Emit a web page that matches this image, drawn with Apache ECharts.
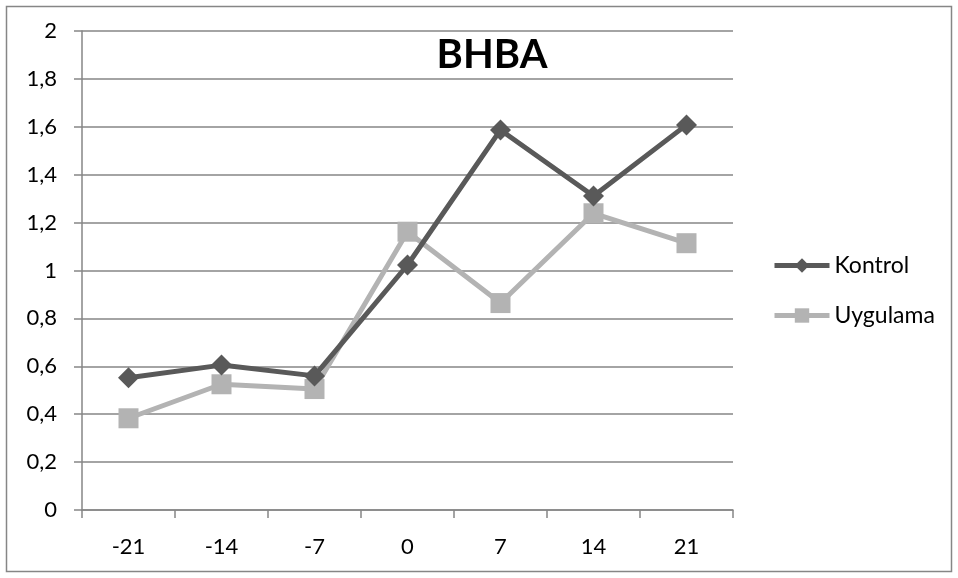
<!DOCTYPE html>
<html><head><meta charset="utf-8">
<script src="https://cdn.jsdelivr.net/npm/echarts@6/dist/echarts.min.js"></script>
<style>html,body{margin:0;padding:0;background:#fff}#c{width:958px;height:578px}</style>
</head><body><div id="c"></div>
<script>
const categories = ['-21','-14','-7','0','7','14','21'];
const kontrol = [0.552, 0.605, 0.56, 1.023, 1.587, 1.311, 1.608];
const uygulama = [0.383, 0.525, 0.505, 1.162, 0.864, 1.239, 1.114];
const yTicks = ['0','0,2','0,4','0,6','0,8','1','1,2','1,4','1,6','1,8','2'];

const chart = echarts.init(document.getElementById('c'));
const font = 'Lato, "Open Sans", sans-serif';
chart.setOption({
  animation: false,
  graphic: [{type:'rect', shape:{x:6.5,y:6.5,width:945,height:565}, style:{fill:'none', stroke:'#868686', lineWidth:1.5}}],
  title: {text:'BHBA', left:487, top:30, textAlign:'center', textStyle:{fontFamily:font, fontWeight:'bold', fontSize:40, color:'#000'}},
  grid: {left:82, right:958-733, top:31, bottom:578-510},
  legend: {orient:'vertical', left:767, top:249, itemGap:27, itemWidth:55, itemHeight:18, padding:5,
    lineStyle:{width:5},
    textStyle:{fontFamily:font, fontSize:23, lineHeight:23, color:'#000'}, data:['Kontrol','Uygulama']},
  xAxis: {type:'category', data:categories, boundaryGap:true,
    axisLine:{lineStyle:{color:'#868686', width:1.5}},
    axisTick:{show:true, length:8, lineStyle:{color:'#868686', width:1.5}},
    axisLabel:{fontFamily:font, fontSize:22, color:'#000', margin:26}},
  yAxis: {type:'value', min:0, max:2, interval:0.2,
    axisLine:{show:true, lineStyle:{color:'#868686', width:1.5}},
    axisTick:{show:true, length:8, lineStyle:{color:'#868686', width:1.5}},
    splitLine:{lineStyle:{color:'#868686', width:1.5}},
    axisLabel:{fontFamily:font, fontSize:22, color:'#000', margin:25,
      formatter: v => yTicks[Math.round(v/0.2)]}},
  series: [
    {name:'Kontrol', type:'line', data:kontrol, symbol:'diamond', symbolSize:21,
     lineStyle:{color:'#595959', width:5}, itemStyle:{color:'#595959'}, z:3},
    {name:'Uygulama', type:'line', data:uygulama, symbol:'rect', symbolSize:20,
     lineStyle:{color:'#b3b3b3', width:5}, itemStyle:{color:'#b3b3b3'}, z:2}
  ]
});
</script></body></html>
